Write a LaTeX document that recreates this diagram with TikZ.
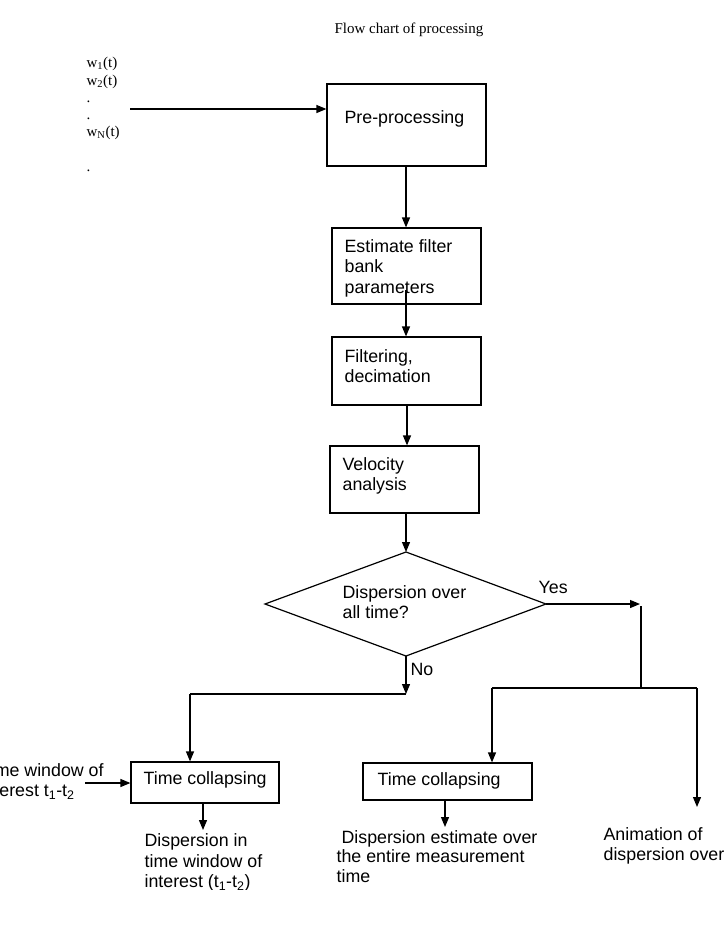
\documentclass[tikz,border=0pt]{standalone}
\usepackage{fontspec}
\setmainfont{Liberation Serif}
\newfontfamily\arialfont{Liberation Sans}
\usetikzlibrary{arrows.meta}
\begin{document}
\begin{tikzpicture}[x=1pt,y=-1pt,
  line width=1.2pt,
  box/.style={draw, rectangle, inner sep=0pt, line width=1.2pt},
  decision/.style={draw, line width=1.2pt},
  lbl/.style={inner sep=0pt, anchor=base west, align=left,
    font=\arialfont\fontsize{17.8}{20.5}\selectfont},
  serif/.style={inner sep=0pt, font=\fontsize{15}{17.2}\selectfont},
  flow/.style={-{Triangle[length=10pt,width=8pt]}, line width=1.2pt},
  plain/.style={line width=1.2pt}]
\useasboundingbox (0,0) rectangle (725,937);

% title
\node[serif, anchor=base] (title) at (409,33) {Flow chart of processing};

% input signals (anchored at the baseline of the last line)
\node[serif, anchor=base west, align=left] (inputs) at (86,171)
  {w\textsubscript{1}(t)\\w\textsubscript{2}(t)\\.\\.\\w\textsubscript{N}(t)\\\mbox{}\\.};
\coordinate (inTail) at (130,109);

% processing chain
\node[box, minimum width=159pt, minimum height=82pt] (pre) at (406.5,125) {};
\node[lbl] (preT) at (344,123) {Pre-processing};

\node[box, minimum width=149pt, minimum height=76pt] (est) at (406.5,266) {};
\node[lbl] (estT) at (344,293) {Estimate filter\\bank\\parameters};
\coordinate (estIn) at (406,290);

\node[box, minimum width=149pt, minimum height=68pt] (filt) at (406.5,371) {};
\node[lbl] (filtT) at (344,382.5) {Filtering,\\decimation};

\node[box, minimum width=149pt, minimum height=67pt] (vel) at (404.5,479.5) {};
\node[lbl] (velT) at (342,490.5) {Velocity\\analysis};

% decision
\coordinate (dTop) at (406,552);
\coordinate (dLeft) at (265,604);
\coordinate (dRight) at (546,604);
\coordinate (dBot) at (406,656);
\draw[decision] (dTop) -- (dRight) -- (dBot) -- (dLeft) -- cycle;
\node[lbl] (decT) at (342,618.5) {Dispersion over\\all time?};
\node[lbl] (yes) at (538,593) {Yes};
\node[lbl] (no) at (410,675) {No};

% connectors of the chain
\draw[flow] (inTail) -- (pre.west |- inTail);
\draw[flow] (pre.south -| estIn) -- (est.north -| estIn);
\draw[flow] (estIn) -- (filt.north -| estIn);
\draw[flow] (filt.south -| 407,0) -- (vel.north -| 407,0);
\draw[flow] (vel.south -| dTop) -- (dTop);

% yes branch
\coordinate (yesEnd) at (640,604);
\coordinate (yesTop) at (641,606);
\coordinate (yesBus) at (641,688);
\coordinate (busL) at (492,688);
\coordinate (busR) at (697,688);
\draw[flow] (dRight) -- (yesEnd);
\draw[plain] (yesTop) -- (yesBus);
\draw[plain] (busL) -- (busR);

% no branch
\coordinate (noEnd) at (406,694);
\coordinate (noBus) at (190,694);
\draw[flow] (dBot) -- (noEnd);
\draw[plain] (noEnd) -- (noBus);

% lower left: time window input
\node[box, minimum width=148pt, minimum height=41pt] (tcL) at (205,782.5) {};
\node[lbl] (tcLT) at (143,784) {Time collapsing};
\node[lbl] (winT) at (-20,796.5) {Time window of\\interest t\textsubscript{1}-t\textsubscript{2}};
\coordinate (winTail) at (85,783);
\draw[flow] (noBus) -- (tcL.north -| noBus);
\draw[flow] (winTail) -- (tcL.west |- winTail);
\coordinate (outL) at (203,830);
\draw[flow] (tcL.south -| outL) -- (outL);
\begin{scope}
  \clip (0,0) rectangle (725,889);
  \node[lbl] (dispL) at (144,887.5) {Dispersion in\\time window of\\interest (t\textsubscript{1}-t\textsubscript{2})};
\end{scope}

% lower middle
\node[box, minimum width=169pt, minimum height=37pt] (tcM) at (447.5,781.5) {};
\node[lbl] (tcMT) at (377,785) {Time collapsing};
\draw[flow] (busL) -- (tcM.north -| busL);
\coordinate (outM) at (445,827);
\draw[flow] (tcM.south -| outM) -- (outM);
\node[lbl, font=\arialfont\fontsize{17.8}{19.5}\selectfont] (dispM) at (336,882)
  {\ Dispersion estimate over\\the entire measurement\\time};

% lower right
\coordinate (animEnd) at (697,807);
\draw[flow] (busR) -- (animEnd);
\node[lbl, font=\arialfont\fontsize{17.8}{19.5}\selectfont] (anim) at (603,860)
  {Animation of\\dispersion over};
\end{tikzpicture}
\end{document}
